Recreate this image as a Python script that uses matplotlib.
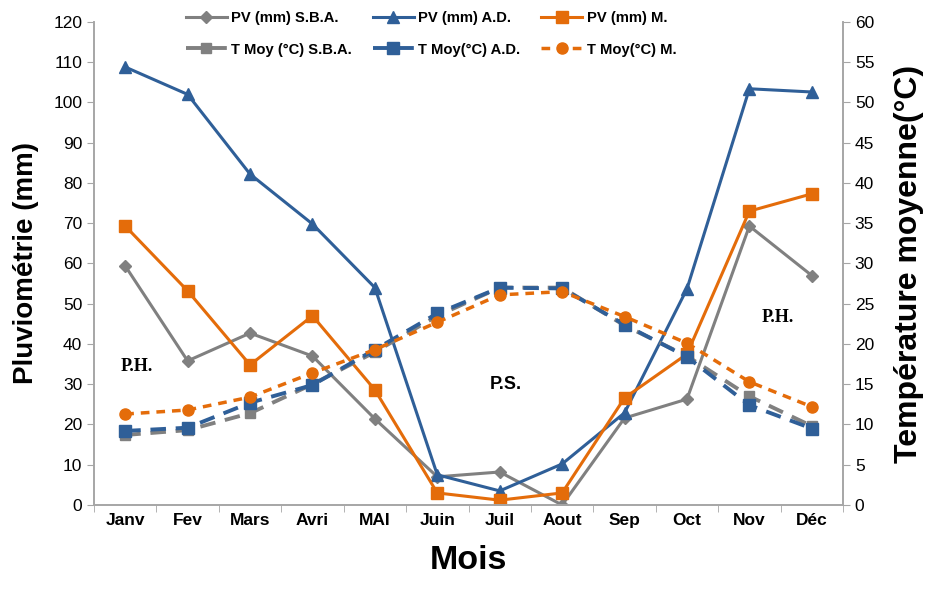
import matplotlib.pyplot as plt
import numpy as np

plt.rcParams['font.family'] = ['Liberation Sans', 'DejaVu Sans']

# monthly data
mois = ['Janv', 'Fev', 'Mars', 'Avri', 'MAI', 'Juin', 'Juil', 'Aout', 'Sep', 'Oct', 'Nov', 'Déc']

pv_sba = [59.4, 35.8, 42.7, 37.0, 21.4, 7.0, 8.2, 0.0, 21.6, 26.3, 69.3, 57.0]
pv_ad = [108.8, 102.0, 82.2, 69.8, 54.0, 7.5, 3.5, 10.2, 22.9, 53.7, 103.4, 102.6]
pv_m = [69.3, 53.2, 34.8, 47.0, 28.6, 3.0, 1.2, 3.0, 26.6, 37.5, 73.0, 77.3]

t_sba = [8.7, 9.3, 11.4, 15.0, 19.0, 23.5, 27.0, 27.0, 22.3, 18.5, 13.5, 9.8]
t_ad = [9.2, 9.6, 12.7, 14.9, 19.3, 23.8, 27.0, 26.9, 22.4, 18.4, 12.4, 9.5]
t_m = [11.3, 11.8, 13.4, 16.4, 19.3, 22.7, 26.1, 26.5, 23.4, 20.1, 15.3, 12.2]

grey = '#808080'
blue = '#2f5f98'
orange = '#e46c0a'
spine_c = '#a6a6a6'

x = np.arange(len(mois))

fig = plt.figure(figsize=(9.27, 5.93), dpi=100)
ax = fig.add_axes([0.1014, 0.1484, 0.808, 0.8146])
ax2 = ax.twinx()

l1, = ax.plot(x, pv_sba, color=grey, lw=2.2, marker='D', ms=6, label='PV (mm) S.B.A.')
l2, = ax.plot(x, pv_ad, color=blue, lw=2.2, marker='^', ms=9, label='PV (mm) A.D.')
l3, = ax.plot(x, pv_m, color=orange, lw=2.2, marker='s', ms=9, label='PV (mm) M.')

l4, = ax2.plot(x, t_sba, color=grey, lw=2.8, ls=(0, (4, 2.5)), marker='s', ms=7, label='T Moy (°C) S.B.A.')
l5, = ax2.plot(x, t_ad, color=blue, lw=2.8, ls=(0, (4, 2.5)), marker='s', ms=9, label='T Moy(°C) A.D.')
l6, = ax2.plot(x, t_m, color=orange, lw=2.5, ls=(0, (2.5, 2)), marker='o', ms=8, label='T Moy(°C) M.')

ax.set_xlim(-0.5, 11.5)
ax.set_ylim(0, 120)
ax.set_yticks(np.arange(0, 121, 10))
ax2.set_ylim(0, 60)
ax2.set_yticks(np.arange(0, 61, 5))

ax.set_xticks(x)
ax.set_xticklabels(mois, fontsize=12.5, fontweight='bold')
ax.set_xticks(np.arange(-0.5, 12, 1), minor=True)
ax.tick_params(axis='x', which='major', length=0, pad=6)
ax.tick_params(axis='x', which='minor', length=5, color=spine_c)
ax.tick_params(axis='y', labelsize=12.5, length=5, color=spine_c)
ax2.tick_params(axis='y', labelsize=12.5, length=5, color=spine_c)

for a in (ax, ax2):
    a.spines['top'].set_visible(False)
    for s in ('left', 'right', 'bottom'):
        a.spines[s].set_color(spine_c)
        a.spines[s].set_linewidth(1.2)

ax.set_xlabel('Mois', fontsize=24.5, fontweight='bold', labelpad=12)
ax.set_ylabel('Pluviométrie (mm)', fontsize=20, fontweight='bold', labelpad=10)
ax2.set_ylabel('Température moyenne(°C)', fontsize=23, fontweight='bold', labelpad=14)

# season labels
ax.text(0.18, 34.3, 'P.H.', fontsize=13, fontweight='bold', family='Liberation Serif', ha='center', va='center')
ax.text(6.1, 30, 'P.S.', fontsize=13, fontweight='bold', ha='center', va='center')
ax.text(10.46, 46.7, 'P.H.', fontsize=13, fontweight='bold', family='Liberation Serif', ha='center', va='center')

fig.legend(handles=[l1, l4, l2, l5, l3, l6], ncol=3, loc='center', bbox_to_anchor=(0.465, 0.943),
           frameon=False, prop={'weight': 'bold', 'size': 10.6},
           handlelength=2.8, columnspacing=1.4, labelspacing=1.2, handletextpad=0.3)

fig.savefig('out.png', dpi=100)
